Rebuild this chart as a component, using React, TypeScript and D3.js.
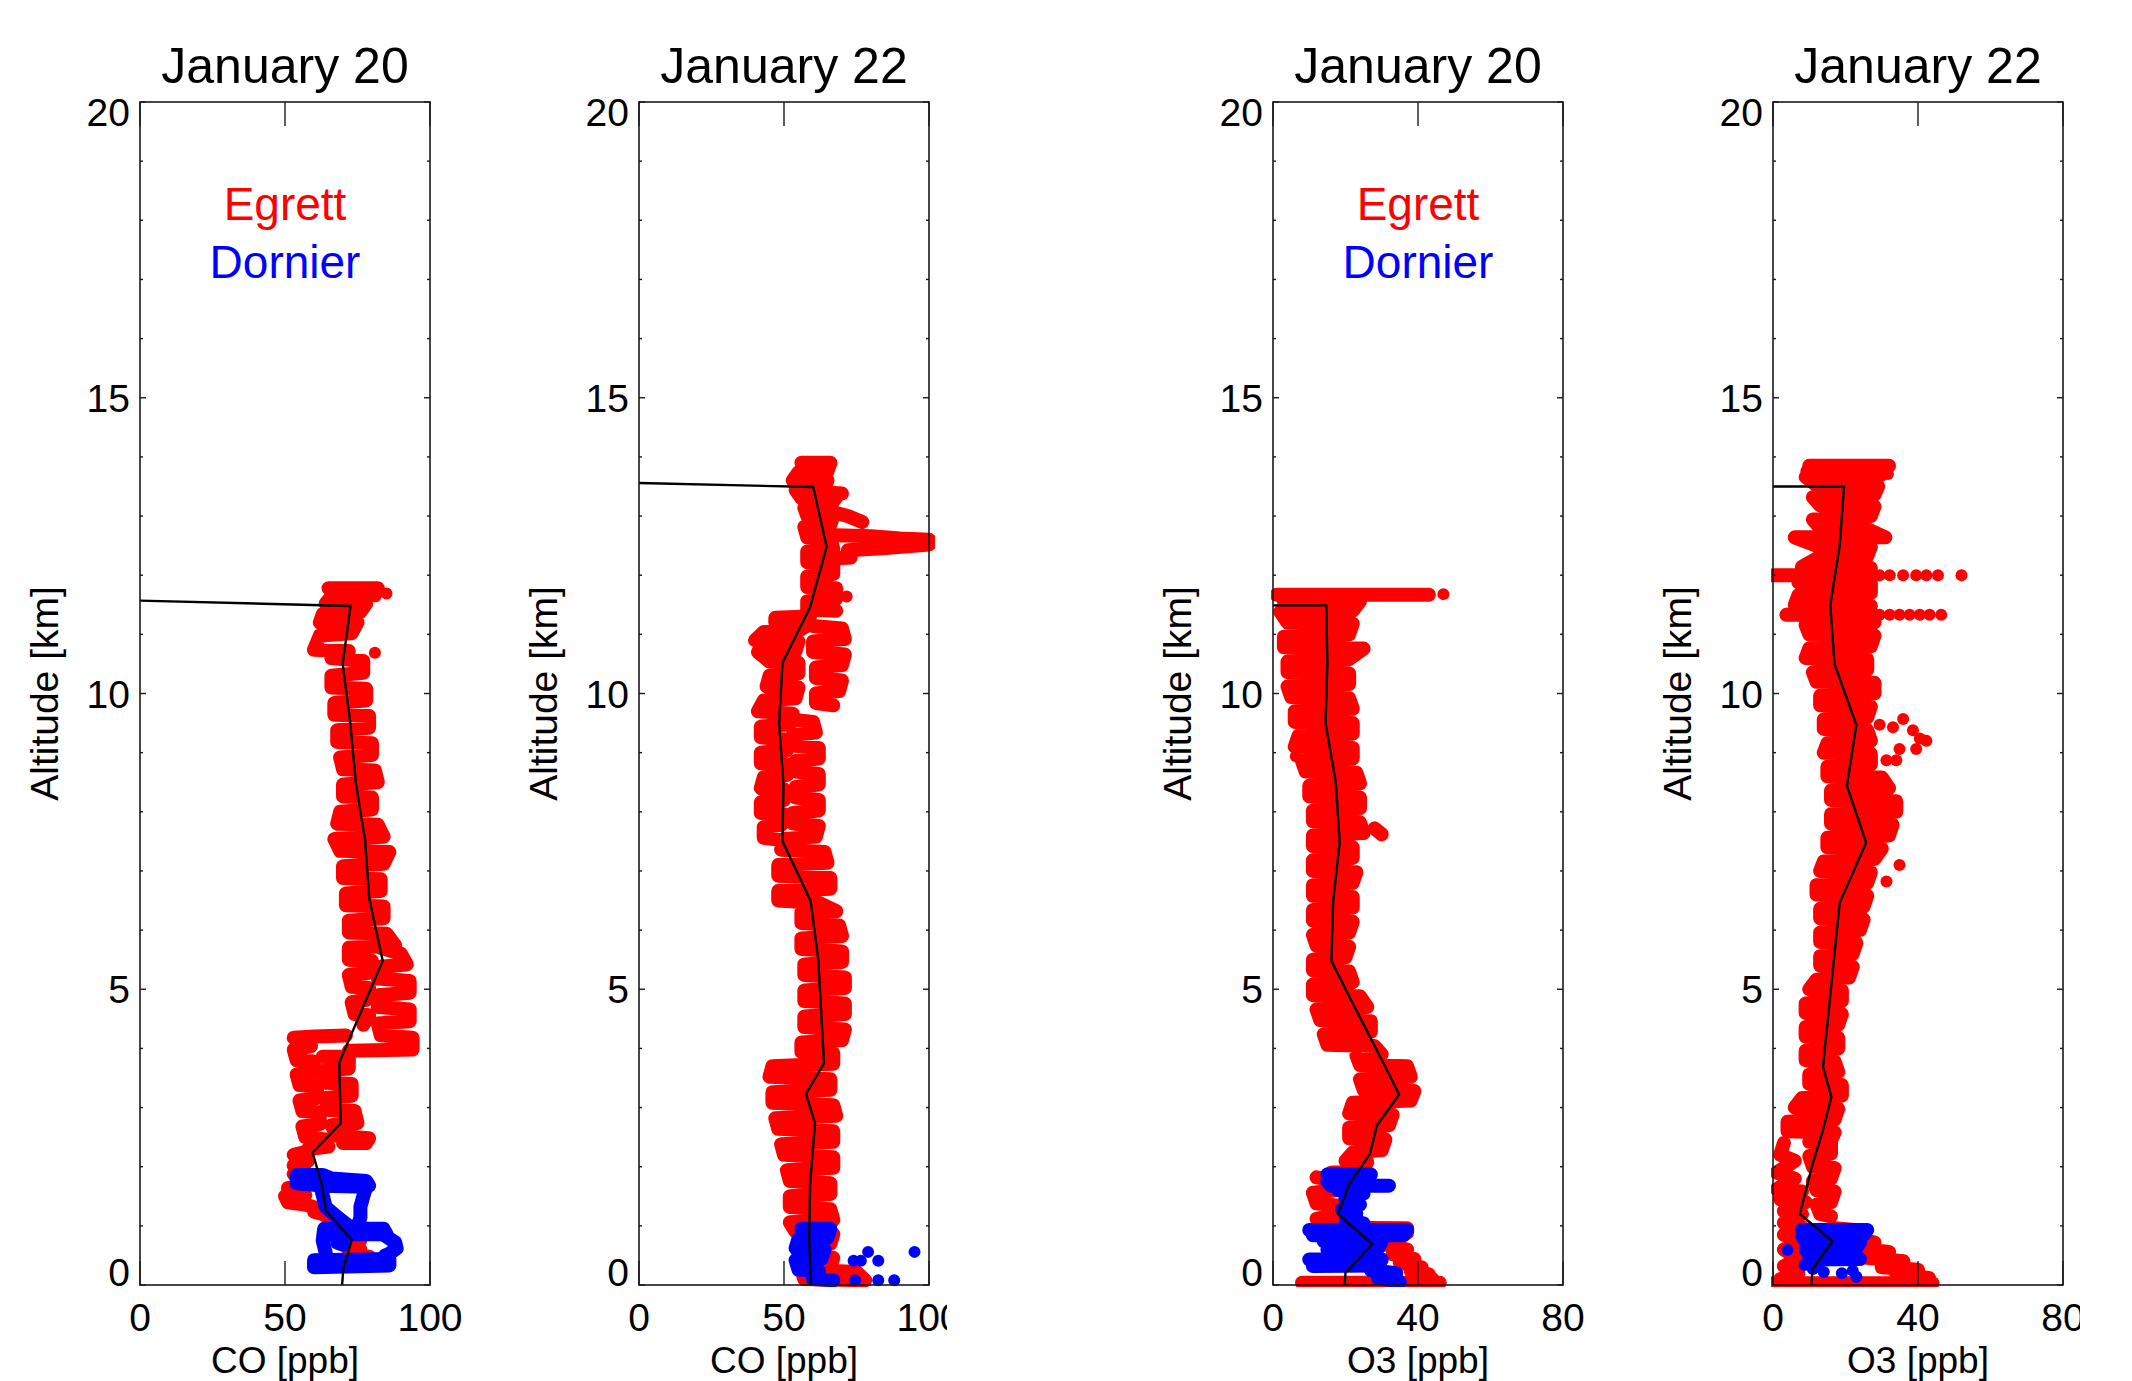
import React from 'react';
import * as d3 from 'd3';

type P = [number, number];

// ---------- axes / labels ----------
const altMajorTicks = [0, 5, 10, 15, 20];
const altMinorTicks = [1, 2, 3, 4, 6, 7, 8, 9, 11, 12, 13, 14, 16, 17, 18, 19];
const coTicks = [0, 50, 100];
const o3Ticks = [0, 40, 80];
const panelTitles = ['January 20', 'January 22', 'January 20', 'January 22'];
const xAxisLabels = ['CO [ppb]', 'CO [ppb]', 'O3 [ppb]', 'O3 [ppb]'];
const yAxisLabel = 'Altitude [km]';
const legendNames = ['Egrett', 'Dornier'];

// ---------- CO, January 20 ----------
const co20Egrett: P[][] = [
  [[65,11.78],[82,11.78],[81,11.66],[66,11.64],[64,11.52],[78,11.52],[76,11.38],[63,11.34],[62,11.2],[75,11.2],[73,11.02],[62,10.98],[60,10.74],[72,10.72],[66,10.6],[77,10.55],[77,10.35],[66,10.3],[66,10.1],[78,10.08],[78,9.88],[67,9.84],[67,9.64],[79,9.62],[79,9.42],[68,9.38],[68,9.18],[80,9.16],[80,8.96],[69,8.92],[70,8.72],[81,8.7],[82,8.5],[70,8.46],[70,8.26],[80,8.24],[80,8.04],[69,8.0],[68,7.8],[82,7.78],[84,7.58],[67,7.54],[69,7.34],[86,7.32],[84,7.12],[70,7.08],[70,6.88],[83,6.86],[83,6.66],[71,6.62],[71,6.42],[84,6.4],[84,6.2],[72,6.16],[72,5.96],[85,5.94],[88,5.74],[72,5.7],[72,5.5],[80,5.48],[79,5.28],[72,5.24],[73,5.04],[79,5.02],[78,4.82],[73,4.78],[74,4.58],[79,4.56],[77,4.4]],
  [[83,5.7],[90,5.6],[92,5.42],[83,5.38],[82,5.18],[93,5.14],[93,4.94],[82,4.9],[82,4.7],[93,4.66],[93,4.46],[82,4.42],[83,4.22],[94,4.18],[94,3.98],[72,3.96]],
  [[71,4.22],[60,4.2],[53,4.18],[59,4.04],[53,3.98],[54,3.8],[60,3.78],[60,3.58],[54,3.56],[55,3.38],[61,3.36],[61,3.16],[55,3.12],[56,2.94],[62,2.92],[62,2.72],[56,2.68],[57,2.5],[64,2.46],[65,2.34],[58,2.3]],
  [[63,3.86],[72,3.86],[72,3.66],[63,3.62],[64,3.42],[73,3.4],[73,3.2],[64,3.16],[65,2.96],[74,2.94],[75,2.74],[66,2.7],[68,2.52],[79,2.48],[78,2.4],[70,2.4]],
  [[58,2.26],[53,2.2],[58,2.1],[53,2.02],[57,1.92],[53,1.88]],
  [[51,1.64],[56,1.62],[57,1.52],[50,1.5],[51,1.4],[57,1.36],[61,1.3],[60,1.24],[63,1.2],[66,1.12],[68,1.04],[72,1.0],[76,0.94],[70,0.86],[76,0.76],[70,0.7],[76,0.6],[72,0.52],[79,0.48],[76,0.44]],
  [[85,11.69]],
  [[81,10.69]],
];
const co20Dornier: P[][] = [
  [[54,1.86],[63,1.86],[66,1.8],[78,1.76],[79,1.68],[78,1.66],[63,1.68],[54,1.72],[54,1.8]],
  [[78,1.66],[77,1.5],[76,1.32],[76,1.14],[75,0.98]],
  [[62.6,1.6],[64,1.32],[68,1.15],[72.4,0.98]],
  [[64,0.95],[84,0.95],[85,0.86],[64,0.86]],
  [[84,0.85],[88,0.72],[88.5,0.62],[86,0.53],[84.5,0.5]],
  [[63.5,0.95],[63,0.75],[64,0.55],[64,0.42]],
  [[60,0.42],[86,0.44],[86,0.33],[60,0.3],[60,0.38]],
  [[68,0.72],[70,0.68]],
];
const co20Mean: P[] = [[0,11.57],[72.6,11.48],[69.9,10.5],[72.4,9.55],[74.5,8.46],[77.6,7.53],[79.1,6.52],[83.7,5.48],[68.7,3.76],[69.2,2.73],[59.5,2.24],[62.6,1.72],[64.1,1.26],[73,0.76],[70.1,0.28],[69.7,0]];

// ---------- CO, January 22 ----------
const co22Egrett: P[][] = [
  [[56,13.9],[66,13.9],[65,13.76],[55,13.74],[53,13.6],[65,13.6],[64,13.46],[54,13.44],[56,13.3],[68,13.32],[66,13.18],[57,13.14],[58,13.0],[67,13.0],[66,12.86],[57,12.82],[58,12.64],[66,12.62],[67,12.44],[58,12.4],[58,12.22],[67,12.2],[67,12.02],[58,11.98],[58,11.8],[68,11.78],[68,11.6],[58,11.56],[58,11.42],[68,11.4]],
  [[64,13.4],[70,13.38]],
  [[64,13.1],[72,13.0],[77,12.9]],
  [[65,12.68],[80,12.66],[90,12.62],[100,12.6]],
  [[72,12.42],[85,12.46],[100,12.52]],
  [[65,12.28],[73,12.3]],
  [[71.6,11.64]],
  [[59,11.3],[47,11.28],[47,11.2],[59,11.18],[55,11.06],[43,11.04],[40,10.9],[55,10.88],[54,10.72],[41,10.7],[45,10.54],[55,10.52],[55,10.34],[45,10.3],[44,10.12],[55,10.1],[54,9.92],[43,9.88],[41,9.7],[53,9.66],[52,9.48],[42,9.44],[42,9.26],[51,9.22],[51,9.04],[42,9.0],[42,8.82],[51,8.8],[51,8.62],[43,8.58],[42,8.4],[50,8.38],[50,8.2],[42,8.16],[42,7.98],[50,7.96],[49,7.78],[43,7.74],[43,7.56],[50,7.52]],
  [[60,11.14],[70,11.1],[71,10.92],[60,10.88],[60,10.7],[71,10.66],[70,10.48],[61,10.44],[61,10.26],[70,10.22],[69,10.04],[61,10.0],[61,9.84],[67,9.8]],
  [[52,9.56],[60,9.52],[61,9.34],[53,9.3],[53,9.12],[62,9.08],[62,8.9],[54,8.86],[54,8.68],[62,8.64],[62,8.46],[54,8.42],[54,8.24],[62,8.2],[62,8.02],[53,7.98],[53,7.8],[62,7.76],[61,7.58],[50,7.54]],
  [[49,7.36],[64,7.32],[65,7.14],[48,7.1],[48,6.92],[66,6.88],[66,6.7],[48,6.66],[48,6.5],[62,6.46],[68,6.32],[56,6.3],[56,6.12],[69,6.08],[70,5.9],[56,5.86],[56,5.68],[70,5.64],[70,5.46],[57,5.42],[57,5.24],[71,5.2],[71,5.02],[57,4.98],[57,4.8],[71,4.76],[71,4.58],[57,4.54],[57,4.36],[71,4.32],[70,4.14],[56,4.1],[56,3.94],[67,3.92],[67,3.74],[46,3.7],[45,3.52],[66,3.48],[66,3.3],[46,3.26],[46,3.08],[67,3.04],[68,2.86],[47,2.82],[48,2.64],[67,2.6],[67,2.42],[49,2.38],[50,2.2],[67,2.16],[67,1.98],[51,1.94],[52,1.76],[66,1.72],[66,1.54],[52,1.5],[52,1.32],[66,1.28],[67,1.1],[52,1.06],[54,0.9],[67,0.86],[66,0.7],[55,0.66],[55,0.5],[67,0.46],[66,0.3],[56,0.26],[57,0.1],[78,0.08],[75,0.22],[65,0.24]],
];
const co22Dornier: P[][] = [
  [[56,0.95],[66,0.95],[65,0.8],[55,0.78],[54,0.62],[64,0.6],[63,0.45],[54,0.42],[55,0.26],[62,0.24],[60,0.1],[67,0.08]],
  [[74,0.41]],[[76.5,0.41]],[[79,0.56]],[[82.5,0.41]],[[95,0.56]],[[74.5,0.08]],[[82.5,0.08]],[[88,0.08]],
];
const co22Mean: P[] = [[0,13.56],[60.1,13.49],[64.7,12.48],[59,11.46],[49.5,10.52],[48.3,9.49],[49.8,8.49],[49.5,7.5],[59.2,6.49],[61.8,5.51],[63.8,3.75],[57.6,3.23],[60.7,2.73],[59,1.7],[58.7,0.83],[59.2,0]];

// ---------- O3, January 20 ----------
const o320Egrett: P[][] = [
  [[1,11.67],[43,11.67]],
  [[47,11.68]],
  [[3,11.56],[24,11.56],[22,11.4],[2,11.38],[4,11.2],[22,11.18],[21,11.0],[3,10.96],[3,10.78],[25,10.76],[21,10.58],[4,10.54],[4,10.36],[21,10.34],[21,10.16],[4,10.12],[5,9.94],[21,9.92],[22,9.74],[6,9.7],[6,9.52],[22,9.5],[22,9.32],[7,9.28],[6,9.1],[22,9.08],[22,8.9],[8,8.86],[9,8.68],[23,8.66],[24,8.48],[10,8.44],[10,8.26],[24,8.24],[24,8.06],[11,8.02],[11,7.84],[24,7.82],[25,7.64],[11,7.6],[11,7.42],[22,7.4],[22,7.22],[11,7.18],[11,7.0],[23,6.98],[22,6.8],[11,6.76],[11,6.58],[22,6.56],[22,6.38],[11,6.34],[11,6.16],[22,6.14],[21,5.96],[11,5.92],[12,5.74],[21,5.72],[20,5.54],[11,5.5],[11,5.32],[21,5.3],[22,5.12],[11,5.08],[11,4.9],[24,4.88],[26,4.7],[12,4.66],[13,4.48],[27,4.46],[27,4.28],[14,4.24],[15,4.06],[28,4.04],[30,3.9],[23,3.88],[24,3.72],[37,3.7],[38,3.52],[24,3.48],[25,3.3],[39,3.28],[38,3.12],[22,3.08],[21,2.9],[33,2.88],[32,2.7],[21,2.66],[21,2.48],[31,2.46],[30,2.28],[22,2.24],[20,2.1],[26,2.08],[25,1.94],[16,1.9],[16,1.8],[24,1.8]],
  [[28,7.72],[30,7.62]],
  [[6.3,8.94]],
  [[12,1.82],[18,1.76],[17,1.6],[11,1.56],[12,1.38],[18,1.34],[17,1.18],[12,1.12],[13,1.04]],
  [[16,0.97],[37,0.96],[37,0.88],[18,0.86]],
  [[28,0.84],[34,0.76],[30,0.7],[37,0.6],[33,0.52],[39,0.44],[35,0.38],[41,0.3],[38,0.24],[43,0.18],[40,0.12],[44,0.1]],
  [[8,0.04],[46,0.04]],
];
const o320Dornier: P[][] = [
  [[15,1.87],[27,1.87],[26,1.77],[15,1.75],[16,1.68],[32,1.68]],
  [[18,1.6],[25,1.55],[20,1.45],[24,1.36],[19,1.28],[23,1.2],[20,1.1],[25,1.04]],
  [[10,0.93],[37,0.93],[36,0.84],[11,0.84]],
  [[14,0.74],[30,0.74],[29,0.62],[15,0.6]],
  [[10,0.43],[30,0.43],[29,0.33],[11,0.32]],
  [[27,0.25],[34,0.2],[29,0.12],[35,0.05]],
];
const o320Mean: P[] = [[0,11.49],[14.7,11.49],[15,10.52],[14.5,9.5],[17.3,8.51],[18.4,7.48],[16.6,6.49],[16.1,5.48],[21.1,4.87],[30.3,3.77],[34.8,3.22],[28.7,2.7],[26.7,2.21],[21.1,1.71],[17.9,1.2],[27.4,0.69],[20,0.21],[19.8,0]];

// ---------- O3, January 22 ----------
const o322Egrett: P[][] = [
  [[10,13.85],[32,13.85],[30,13.7],[9,13.66],[12,13.52],[29,13.5],[28,13.36],[11,13.32],[13,13.18],[28,13.16],[27,13.0],[11,12.94],[13,12.8],[26,12.78],[31,12.64],[6,12.64],[12,12.5],[27,12.48],[26,12.32],[12,12.28],[8,12.14],[27,12.12]],
  [[0,12.0],[27.6,12.0]],
  [[29.4,12.0]],[[32.2,12.0]],[[35.9,12.0]],[[39.5,12.0]],[[42.3,12.0]],[[45.5,12.0]],[[52,12.0]],
  [[7,11.88],[27,11.86],[27,11.7],[7,11.66],[6,11.5],[27,11.48],[3.7,11.33],[27.6,11.33]],
  [[29.4,11.33]],[[32.2,11.33]],[[34.9,11.33]],[[37.7,11.33]],[[40.5,11.33]],[[43.2,11.33]],[[46.4,11.33]],
  [[28,11.2],[9,11.16],[10,11.0],[28,10.98],[27,10.8],[10,10.76],[9,10.6],[26,10.58],[26,10.4],[11,10.36],[12,10.2],[28,10.18],[28,10.0],[13,9.96],[13,9.8],[27,9.78],[26,9.6],[14,9.56],[14,9.4],[26,9.38],[27,9.2],[15,9.16],[14,9.0],[27,8.98],[27,8.8],[15,8.76],[15,8.6],[30,8.58],[32,8.4],[16,8.36],[16,8.2],[34,8.18],[34,8.0],[16,7.96],[16,7.8],[33,7.78],[32,7.6],[15,7.56],[15,7.4],[30,7.38],[28,7.2],[14,7.16],[13,7.0],[27,6.98],[26,6.8],[12,6.76],[12,6.6],[26,6.58],[25,6.4],[13,6.36],[13,6.2],[25,6.18],[24,6.0],[13,5.96],[13,5.8],[23,5.78],[22,5.6],[13,5.56],[13,5.4],[22,5.38],[21,5.2],[12,5.16],[10,5.0],[19,4.98],[19,4.8],[9,4.76],[9,4.6],[19,4.58],[18,4.4],[9,4.36],[9,4.2],[18,4.18],[18,4.0],[9,3.96],[9,3.8],[17,3.78],[18,3.6],[10,3.56],[10,3.4],[19,3.38],[19,3.2],[8,3.16],[6,3.0],[18,2.98],[17,2.8],[4,2.76],[4,2.6],[17,2.58],[16,2.44]],
  [[29.4,9.47]],[[33.1,9.43]],[[35.9,9.57]],[[38.6,9.38]],[[40.5,9.24]],[[42.3,9.2]],[[34.9,9.06]],[[39.5,9.06]],[[31.3,8.87]],[[34,8.87]],
  [[34.9,7.1]],[[31.3,6.82]],[[33,7.8]],
  [[9.2,13.76]],[[31.7,13.71]],[[11,12.92]],
  [[3,2.4],[2,2.2],[6,2.1],[1,1.9],[6,1.8],[1,1.62],[8,1.58],[2,1.45],[9,1.4],[3,1.25],[8,1.2],[3,1.05],[8,0.98],[3,0.85],[8,0.75],[3,0.6],[7,0.45],[3,0.32],[7,0.2],[2,0.1]],
  [[10,2.42],[16,2.4],[16,2.22],[10,2.18],[11,2.0],[17,1.98],[16,1.8],[11,1.76],[12,1.6],[17,1.58],[16,1.4],[12,1.36],[13,1.2],[16,1.16]],
  [[17,0.96],[24,0.92],[20,0.8],[28,0.72],[23,0.62],[32,0.56],[26,0.46],[36,0.4],[30,0.3],[40,0.26],[34,0.18],[43,0.12]],
  [[0,0.03],[44,0.03]],
];
const o322Dornier: P[][] = [
  [[8,0.93],[26,0.93],[25,0.85],[8,0.83],[9,0.74],[24,0.72],[23,0.63],[9,0.6],[10,0.52],[22,0.5],[24,0.44],[10,0.43]],
  [[4,0.59]],[[8.7,0.34]],[[12,0.31]],[[14,0.22]],[[19,0.2]],[[22,0.24]],[[23,0.14]],[[11,0.27]],
];
const o322Mean: P[] = [[0,13.5],[19.6,13.5],[18.4,12.5],[15.8,11.49],[17,10.49],[23,9.47],[20.4,8.44],[25.7,7.48],[18.4,6.46],[13.8,3.69],[16.1,3.18],[13.8,2.62],[11,2.06],[7.4,1.2],[16.4,0.74],[10.9,0.27],[10.6,0]];

// ---------- layout ----------
const FONT = '"Liberation Sans", Arial, Helvetica, sans-serif';
const W = 2132, H = 1381;
const TOP = 102, BOTTOM = 1285, PW = 290;
const LEFTS = [140, 639, 1273, 1773];
const RED = '#ff0000', BLUE = '#0000ff';

const panels = [
  { ticks: coTicks, egrett: co20Egrett, dornier: co20Dornier, mean: co20Mean, legend: true },
  { ticks: coTicks, egrett: co22Egrett, dornier: co22Dornier, mean: co22Mean, legend: false },
  { ticks: o3Ticks, egrett: o320Egrett, dornier: o320Dornier, mean: o320Mean, legend: true },
  { ticks: o3Ticks, egrett: o322Egrett, dornier: o322Dornier, mean: o322Mean, legend: false },
];

function Series({ strokes, color, x, y }: { strokes: P[][]; color: string; x: any; y: any }) {
  const line = d3.line<P>().x(d => x(d[0])).y(d => y(d[1]));
  return (
    <g>
      {strokes.map((s, i) => s.length > 1 ? (
        <path key={'p' + i} d={line(s) || ''} fill="none" stroke={color} strokeWidth={14}
          strokeLinecap="round" strokeLinejoin="round" />
      ) : null)}
      {strokes.flat().map((p, i) => (
        <circle key={'c' + i} cx={x(p[0])} cy={y(p[1])} r={6} fill={color} />
      ))}
    </g>
  );
}

function Panel({ idx }: { idx: number }) {
  const p = panels[idx];
  const left = LEFTS[idx];
  const right = left + PW;
  const x = d3.scaleLinear().domain([p.ticks[0], p.ticks[p.ticks.length - 1]]).range([left, right]);
  const y = d3.scaleLinear().domain([0, 20]).range([BOTTOM, TOP]);
  const meanLine = d3.line<P>().x(d => x(d[0])).y(d => y(d[1]));
  const cx = (left + right) / 2;
  const clipId = 'plotclip' + idx;
  return (
    <g>
      <defs>
        <clipPath id={clipId}>
          <rect x={left - 2} y={TOP - 6} width={PW + 8} height={BOTTOM - TOP + 8} />
        </clipPath>
      </defs>
      <g clipPath={`url(#${clipId})`}>
        <Series strokes={p.egrett} color={RED} x={x} y={y} />
        <Series strokes={p.dornier} color={BLUE} x={x} y={y} />
        <path d={meanLine(p.mean) || ''} fill="none" stroke="#000" strokeWidth={2.4} strokeLinejoin="round" />
      </g>
      <rect x={left} y={TOP} width={PW} height={BOTTOM - TOP} fill="none" stroke="#1a1a1a" strokeWidth={1.6} />
      {altMajorTicks.map(t => (
        <g key={'ym' + t}>
          <line x1={left} x2={left + 6} y1={y(t)} y2={y(t)} stroke="#1a1a1a" strokeWidth={1.4} />
          <line x1={right} x2={right - 6} y1={y(t)} y2={y(t)} stroke="#1a1a1a" strokeWidth={1.4} />
        </g>
      ))}
      {altMinorTicks.map(t => (
        <g key={'yn' + t}>
          <line x1={left} x2={left + 3} y1={y(t)} y2={y(t)} stroke="#1a1a1a" strokeWidth={1.4} />
          <line x1={right} x2={right - 3} y1={y(t)} y2={y(t)} stroke="#1a1a1a" strokeWidth={1.4} />
        </g>
      ))}
      {p.ticks.map(t => (
        <g key={'xt' + t}>
          <line x1={x(t)} x2={x(t)} y1={BOTTOM} y2={BOTTOM - 24} stroke="#1a1a1a" strokeWidth={1.4} />
          <line x1={x(t)} x2={x(t)} y1={TOP} y2={TOP + 24} stroke="#1a1a1a" strokeWidth={1.4} />
        </g>
      ))}
      {altMajorTicks.map(t => {
        const yy = Math.min(Math.max(y(t), TOP + 10), BOTTOM - 13);
        return (
          <text key={'yl' + t} x={left - 10} y={yy} dy="0.36em" textAnchor="end"
            fontFamily={FONT} fontSize={39} fill="#000">{t}</text>
        );
      })}
      {p.ticks.map(t => (
        <text key={'xl' + t} x={x(t)} y={1331} textAnchor="middle" fontFamily={FONT} fontSize={39} fill="#000">{t}</text>
      ))}
      <text x={cx} y={1373} textAnchor="middle" fontFamily={FONT} fontSize={37} fill="#000">{xAxisLabels[idx]}</text>
      <text transform={`translate(${left - 82},${(TOP + BOTTOM) / 2}) rotate(-90)`} textAnchor="middle"
        fontFamily={FONT} fontSize={39} fill="#000">{yAxisLabel}</text>
      <text x={cx} y={83} textAnchor="middle" fontFamily={FONT} fontSize={50} fill="#000">{panelTitles[idx]}</text>
      {p.legend && (
        <g>
          <text x={cx} y={220} textAnchor="middle" fontFamily={FONT} fontSize={46} fill={RED}>{legendNames[0]}</text>
          <text x={cx} y={278} textAnchor="middle" fontFamily={FONT} fontSize={46} fill={BLUE}>{legendNames[1]}</text>
        </g>
      )}
    </g>
  );
}

export default function App() {
  return (
    <svg width={W} height={H} viewBox={`0 0 ${W} ${H}`}
      style={{ position: 'absolute', left: 0, top: 0, display: 'block', background: '#fff' }}>
      <defs>
        <clipPath id="fig1"><rect x={0} y={0} width={947} height={H} /></clipPath>
        <clipPath id="fig2"><rect x={947} y={0} width={2080 - 947} height={H} /></clipPath>
      </defs>
      <rect x={0} y={0} width={W} height={H} fill="#fff" />
      <g clipPath="url(#fig1)">
        <Panel idx={0} />
        <Panel idx={1} />
      </g>
      <g clipPath="url(#fig2)">
        <Panel idx={2} />
        <Panel idx={3} />
      </g>
    </svg>
  );
}
